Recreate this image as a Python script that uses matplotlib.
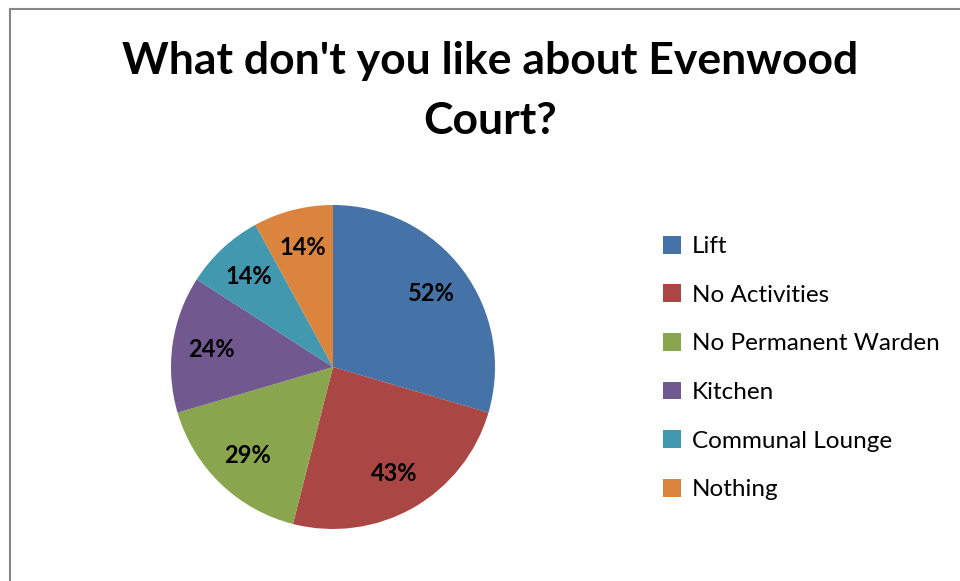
import matplotlib.pyplot as plt
from matplotlib.lines import Line2D

# Survey answers (percent of respondents, multiple answers allowed)
categories = ['Lift', 'No Activities', 'No Permanent Warden', 'Kitchen',
              'Communal Lounge', 'Nothing']
values = [52, 43, 29, 24, 14, 14]
colors = ['#4572A7', '#AA4643', '#89A54E', '#71588F', '#4198AF', '#DB843D']
title = "What don't you like about Evenwood\nCourt?"

total = sum(values)

fig = plt.figure(figsize=(9.6, 5.81), dpi=100)

# chart frame (only top and left edges visible in the crop)
fig.add_artist(Line2D([9.5 / 960, 9.5 / 960], [0, 1 - 8.5 / 581],
                      color='#878787', lw=1.5, transform=fig.transFigure))
fig.add_artist(Line2D([9.5 / 960, 1], [1 - 8.5 / 581, 1 - 8.5 / 581],
                      color='#878787', lw=1.5, transform=fig.transFigure))

fig.text(490 / 960, 1 - 91 / 581, title, ha='center', va='center',
         fontsize=32, fontweight='bold', family='Lato', linespacing=1.6)

ax = fig.add_axes([171 / 960, 52 / 581, 324 / 960, 324 / 581])
wedges, texts, autotexts = ax.pie(
    values, colors=colors, startangle=90, counterclock=False,
    autopct=lambda p: f"{round(p * total / 100)}%", pctdistance=0.76,
    wedgeprops=dict(linewidth=0))
for t in autotexts:
    t.set_fontsize(17)
    t.set_fontweight('bold')
    t.set_family('Lato')
ax.set_xlim(-1, 1)
ax.set_ylim(-1, 1)
ax.set_aspect('equal')

fig.legend(wedges, categories, loc='upper left',
           bbox_to_anchor=(653 / 960, 1 - 226 / 581), frameon=False,
           prop=dict(family='Lato', size=17.5), handlelength=0.75,
           handleheight=0.75, handletextpad=0.45, labelspacing=1.12,
           borderaxespad=0)

fig.savefig('out.png', dpi=100)
